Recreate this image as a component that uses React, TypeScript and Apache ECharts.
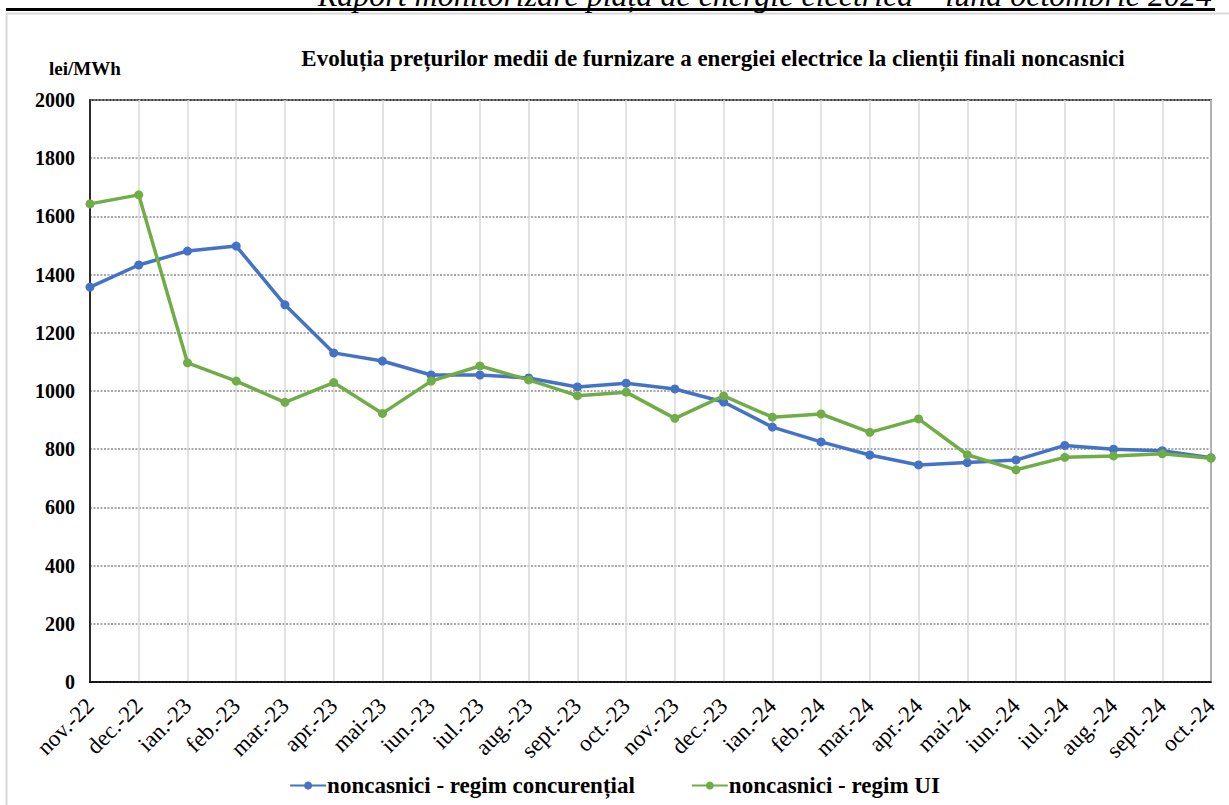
import React, { useEffect, useRef } from "react";
import * as echarts from "echarts";

const categories = [
  "nov.-22", "dec.-22", "ian.-23", "feb.-23", "mar.-23", "apr.-23", "mai-23", "iun.-23",
  "iul.-23", "aug.-23", "sept.-23", "oct.-23", "nov.-23", "dec.-23", "ian.-24", "feb.-24",
  "mar.-24", "apr.-24", "mai-24", "iun.-24", "iul.-24", "aug.-24", "sept.-24", "oct.-24",
];

const concurential = [
  1357, 1433, 1481, 1498, 1296, 1131, 1103, 1055, 1055, 1045, 1014, 1027,
  1007, 962, 876, 825, 780, 746, 754, 763, 813, 800, 795, 771,
];

const regimUI = [
  1643, 1674, 1097, 1034, 961, 1029, 923, 1034, 1086, 1038, 984, 996,
  906, 983, 910, 921, 858, 904, 781, 729, 772, 777, 784, 769,
];

const yTicks = { min: 0, max: 2000, interval: 200 };

const SERIF = "Liberation Serif, Times New Roman, serif";

export default function App() {
  const ref = useRef<HTMLDivElement>(null);
  useEffect(() => {
    const chart = echarts.init(ref.current!, null, { renderer: "svg" });
    chart.setOption({
      animation: false,
      backgroundColor: "#ffffff",
      textStyle: { fontFamily: SERIF },
      graphic: [
        {
          type: "rect",
          shape: { x: 6.5, y: 13.5, width: 1240, height: 800 },
          style: { fill: "none", stroke: "#d9d9d9", lineWidth: 2 },
          silent: true,
        },
        {
          type: "rect",
          shape: { x: 6, y: 8, width: 1209, height: 3 },
          style: { fill: "#000000" },
          silent: true,
        },
        {
          type: "text",
          x: 1212,
          y: 11,
          style: {
            text: "Raport monitorizare piața de energie electrică – luna octombrie 2024",
            font: `italic 32px ${SERIF}`,
            fill: "#000000",
            align: "right",
            verticalAlign: "bottom",
          },
        },
        {
          type: "text",
          x: 49,
          y: 68,
          style: {
            text: "lei/MWh",
            font: `bold 19px ${SERIF}`,
            fill: "#000000",
            align: "left",
            verticalAlign: "middle",
          },
        },
      ],
      title: {
        text: "Evoluția prețurilor medii de furnizare a energiei electrice la clienții finali noncasnici",
        left: 708,
        top: 42,
        textAlign: "center",
        textStyle: { fontFamily: SERIF, fontWeight: "bold", fontSize: 23, color: "#000000" },
      },
      legend: {
        bottom: 3,
        left: "center",
        itemGap: 56,
        itemWidth: 36,
        itemHeight: 10,
        textStyle: { fontFamily: SERIF, fontWeight: "bold", fontSize: 23, color: "#000000", padding: [0, 0, 0, -4] },
        data: ["noncasnici - regim concurențial", "noncasnici - regim UI"],
      },
      grid: {
        left: 90,
        right: 18,
        top: 100,
        bottom: 123,
        show: true,
        borderColor: "#000000",
        borderWidth: 1.5,
        containLabel: false,
      },
      xAxis: {
        type: "category",
        data: categories,
        boundaryGap: false,
        axisLine: { lineStyle: { color: "#000000", width: 1.5 } },
        axisTick: { show: false },
        axisLabel: {
          rotate: 45,
          interval: 0,
          margin: 20,
          fontFamily: SERIF,
          fontSize: 23,
          color: "#000000",
        },
        splitLine: { show: true, lineStyle: { color: "#d9d9d9", width: 1.5 } },
      },
      yAxis: {
        type: "value",
        min: yTicks.min,
        max: yTicks.max,
        interval: yTicks.interval,
        axisLine: { show: true, lineStyle: { color: "#000000", width: 1.5 } },
        axisTick: { show: false },
        axisLabel: {
          margin: 15,
          fontFamily: SERIF,
          fontWeight: "bold",
          fontSize: 20,
          color: "#000000",
          formatter: (v: number) => String(v),
        },
        splitLine: { show: true, lineStyle: { color: "#8c8c8c", type: [2, 1.5], width: 1.5 } },
      },
      series: [
        {
          name: "noncasnici - regim concurențial",
          type: "line",
          data: concurential,
          symbol: "circle",
          symbolSize: 9,
          lineStyle: { color: "#4472C4", width: 3.5 },
          itemStyle: { color: "#4472C4" },
          z: 2,
        },
        {
          name: "noncasnici - regim UI",
          type: "line",
          data: regimUI,
          symbol: "circle",
          symbolSize: 9,
          lineStyle: { color: "#70AD47", width: 3.5 },
          itemStyle: { color: "#70AD47" },
          z: 3,
        },
      ],
    });
    return () => chart.dispose();
  }, []);
  return (
    <div
      ref={ref}
      style={{ position: "absolute", left: 0, top: 0, width: 1229, height: 805 }}
    />
  );
}
